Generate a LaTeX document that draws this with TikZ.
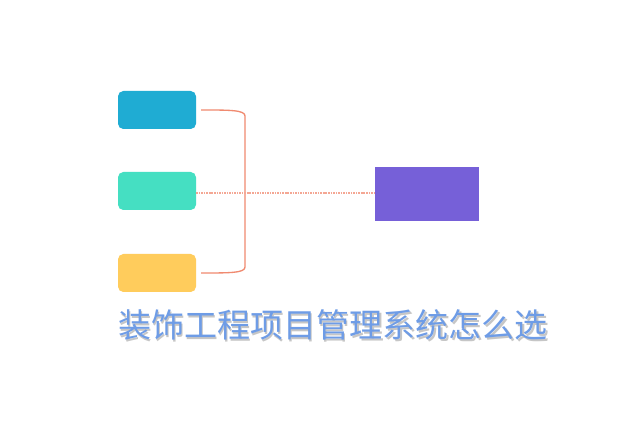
\documentclass[tikz,border=0pt]{standalone}
\usepackage{fontspec}
\newfontfamily\cjk{Noto Sans CJK SC}
\definecolor{boxblue}{HTML}{1FACD3}
\definecolor{boxteal}{HTML}{45DFC2}
\definecolor{boxyellow}{HTML}{FFCC5C}
\definecolor{boxpurple}{HTML}{7660D8}
\definecolor{linkred}{HTML}{F08A70}
\definecolor{titleblue}{HTML}{6E9CE6}
\tikzset{item/.style = {rounded corners=4pt, minimum width=58.5pt, minimum height=28.5pt, inner sep=0pt}}
\usetikzlibrary{positioning}

\begin{document}
\begin{tikzpicture}[x = 0.75pt, y = -0.75pt]
\fill[white] (0,0) rectangle (640,427);
\node[item, fill = boxblue] (top) at (157,110) {};
\node[item, fill = boxteal] (mid) at (157,191) {};
\node[item, fill = boxyellow] (bot) at (157,273) {};
\node[fill = boxpurple, minimum width = 78pt, minimum height = 40.5pt, inner sep = 0pt] (goal) at (427,194) {};
\coordinate (ta) at (201,110);
\coordinate (ba) at (201,273);
\draw[linkred, line width = 1pt] (ta) .. controls (230,110) and (245,110) .. (245,116) -- (245,267) .. controls (245,273) and (230,273) .. (ba);
\draw[linkred!75, line width = 1.5pt, dash pattern = on 1.2pt off 0.7pt] (mid.east |- 0,193) -- (goal.west |- 0,193);
\node[text = gray!45, font = \cjk\fontsize{24.8pt}{26pt}\selectfont] at (334.5,326.5) {装饰工程项目管理系统怎么选};
\node[text = titleblue, font = \cjk\fontsize{24.8pt}{26pt}\selectfont] (title) at (333,325) {装饰工程项目管理系统怎么选};
\end{tikzpicture}
\end{document}
